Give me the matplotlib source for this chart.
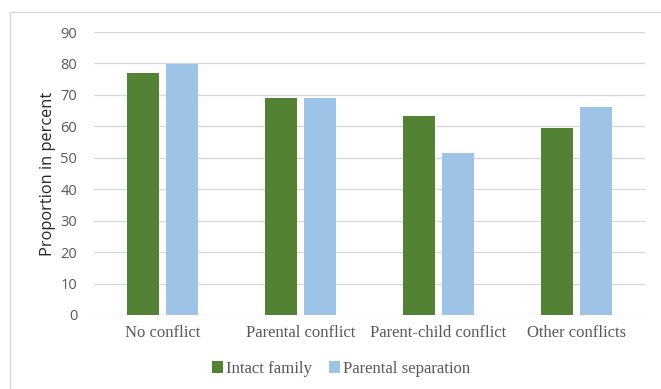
import matplotlib
matplotlib.use("Agg")
import matplotlib.pyplot as plt
import numpy as np
from matplotlib.patches import Rectangle

categories = ["No conflict", "Parental conflict", "Parent-child conflict", "Other conflicts"]
intact = [77.1, 69.1, 63.4, 59.5]
separation = [79.7, 69.1, 51.4, 66.0]
series_names = ["Intact family", "Parental separation"]
yticks = [0, 10, 20, 30, 40, 50, 60, 70, 80, 90]

W, H = 661, 389
fig = plt.figure(figsize=(W/100, H/100), dpi=100)
fig.patch.set_facecolor("white")

# outer chart border
fig.patches.append(Rectangle((10/W, -0.1), 1.2, 1 - 12/H + 0.1, transform=fig.transFigure,
                             fill=False, edgecolor="#d9d9d9", linewidth=1.0))

ax = fig.add_axes([94/W, 1 - 315/H, (645-94)/W, (315-32)/H])
x = np.arange(len(categories))
bw = 0.232
gap = 0.05
green = "#548235"
blue = "#9DC3E6"
ax.bar(x - (bw+gap)/2, intact, bw, color=green, label=series_names[0], zorder=3)
ax.bar(x + (bw+gap)/2, separation, bw, color=blue, label=series_names[1], zorder=3)

ax.set_xlim(-0.5, len(categories) - 0.5)
ax.set_ylim(0, 90)
ax.set_yticks(yticks)
ax.yaxis.grid(True, color="#d9d9d9", linewidth=1.0, zorder=0)
for s in ax.spines.values():
    s.set_visible(False)
ax.tick_params(axis="both", length=0)
ax.tick_params(axis="y", labelcolor="#595959", labelsize=10.5, pad=12)
for lab in ax.get_yticklabels():
    lab.set_family("Open Sans")
ax.set_xticks(x)
ax.set_xticklabels(categories, family="Liberation Serif", fontsize=12, color="#595959")
ax.tick_params(axis="x", pad=7)
ax.set_ylabel("Proportion in percent", family="Open Sans", fontsize=11.8, color="#262626", labelpad=3)

leg = fig.legend(loc="center", bbox_to_anchor=(341/W, 1 - 369/H), ncol=2, frameon=False,
                 prop={"family": "Liberation Serif", "size": 12.1}, handlelength=0.65, handleheight=0.65,
                 handletextpad=0.2, columnspacing=1.0)
for t in leg.get_texts():
    t.set_color("#595959")

fig.savefig("out.png", dpi=100, facecolor="white")
